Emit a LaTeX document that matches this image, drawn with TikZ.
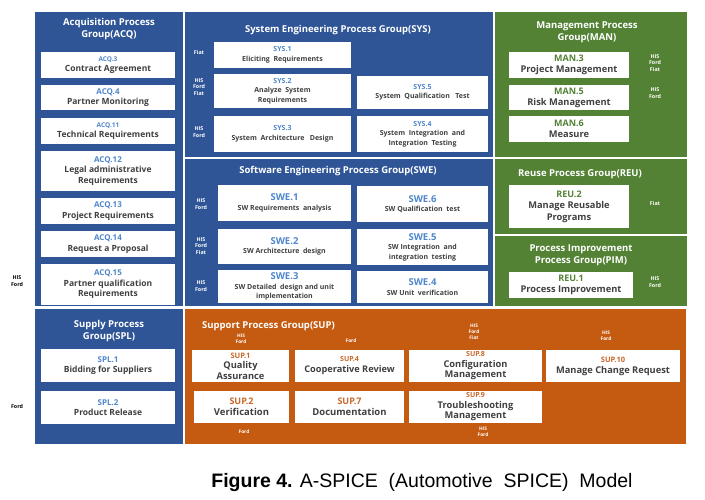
\documentclass[tikz,border=0pt]{standalone}
\usepackage{fontspec}
\setmainfont{Open Sans}
\newfontfamily\capfont{Liberation Sans}
\definecolor{panelblue}{HTML}{2F5597}
\definecolor{panelgreen}{HTML}{548235}
\definecolor{panelorange}{HTML}{C55A11}
\definecolor{codeblue}{HTML}{4F86CC}
\definecolor{codegreen}{HTML}{548235}
\definecolor{codeorange}{HTML}{C9682A}
\definecolor{desc}{HTML}{404040}
\newcommand{\pid}[3]{{\color{#1}\fontsize{#2}{#2}\selectfont #3}}

\begin{document}
\begin{tikzpicture}[x=1pt,y=-1pt,
  box/.style={fill=white,inner sep=0pt,align=center,text=desc,font=\bfseries\fontsize{8.5}{10.5}\selectfont},
  smallbox/.style={box,font=\bfseries\fontsize{7}{9.5}\selectfont},
  sz/.style 2 args={minimum width=#1,minimum height=#2},
  title/.style={text=white,align=center,inner sep=0pt,font=\bfseries\fontsize{9.5}{12}\selectfont},
  oem/.style={text=white,align=center,inner sep=0pt,font=\bfseries\fontsize{5.3}{6.6}\selectfont}]
  \useasboundingbox (0,0) rectangle (705,500);
  % panels
  \fill[panelblue] (35,12) rectangle (183,306);
  \fill[panelblue] (35,309) rectangle (183,444);
  \fill[panelblue] (185,12) rectangle (493,157);
  \fill[panelblue] (185,159) rectangle (493,306);
  \fill[panelgreen] (495,12) rectangle (687,157);
  \fill[panelgreen] (495,159) rectangle (687,234);
  \fill[panelgreen] (495,236) rectangle (687,306);
  \fill[panelorange] (185,309) rectangle (686,444);

  % acquisition
  \node (tacq) at (109,29) [title] {Acquisition Process\\Group(ACQ)};
  \node (acq3) at (108,65) [box,sz={134}{26}] {\pid{codeblue}{6.5}{ACQ.3}\\Contract Agreement};
  \node (acq4) at (108,97.5) [box,sz={134}{25}] {\pid{codeblue}{8}{ACQ.4}\\Partner Monitoring};
  \node (acq11) at (108,131) [box,sz={134}{26}] {\pid{codeblue}{6.5}{ACQ.11}\\Technical Requirements};
  \node (acq12) at (108,171) [box,sz={134}{40}] {\pid{codeblue}{8}{ACQ.12}\\Legal administrative\\Requirements};
  \node (acq13) at (108,211) [box,sz={134}{26}] {\pid{codeblue}{8}{ACQ.13}\\Project Requirements};
  \node (acq14) at (108,244) [box,sz={134}{26}] {\pid{codeblue}{8}{ACQ.14}\\Request a Proposal};
  \node (acq15) at (108,284.5) [box,sz={134}{41}] {\pid{codeblue}{8}{ACQ.15}\\Partner qualification\\Requirements};
  \node (oacq) at (17,281) [oem,text=black] {HIS\\Ford};

  % supply
  \node (tspl) at (109,331) [title] {Supply Process\\Group(SPL)};
  \node (spl1) at (108,365.5) [box,sz={134}{33}] {\pid{codeblue}{8}{SPL.1}\\Bidding for Suppliers};
  \node (spl2) at (108,407.5) [box,sz={134}{33}] {\pid{codeblue}{8}{SPL.2}\\Product Release};
  \node (ospl) at (17,407) [oem,text=black] {Ford};

  % system engineering
  \node (tsys) at (338,30) [title] {System Engineering Process Group(SYS)};
  \node (sys1) at (282.5,55) [smallbox,sz={137}{26}] {\pid{codeblue}{7}{SYS.1}\\Eliciting~ Requirements};
  \node (sys2) at (282.5,91) [smallbox,sz={137}{34}] {\pid{codeblue}{7}{SYS.2}\\Analyze~ System\\Requirements};
  \node (sys5) at (422.5,92.5) [smallbox,sz={131}{33}] {\pid{codeblue}{7}{SYS.5}\\System~ Qualification~~ Test};
  \node (sys3) at (282.5,134) [smallbox,sz={137}{36}] {\pid{codeblue}{7}{SYS.3}\\System~ Architecture~~ Design};
  \node (sys4) at (422.5,134) [smallbox,sz={131}{36}] {\pid{codeblue}{7}{SYS.4}\\System~ Integration~ and\\Integration~ Testing};
  \node (osys1) at (199,53) [oem] {Fiat};
  \node (osys2) at (199,87) [oem] {HIS\\Ford\\Fiat};
  \node (osys3) at (199,132) [oem] {HIS\\Ford};

  % software engineering
  \node (tswe) at (338,171) [title] {Software Engineering Process Group(SWE)};
  \node (swe1) at (284.5,203) [smallbox,sz={133}{36}] {\pid{codeblue}{9.5}{SWE.1}\\SW Requirements~ analysis};
  \node (swe6) at (422.5,204) [smallbox,sz={131}{36}] {\pid{codeblue}{9.5}{SWE.6}\\SW Qualification~ test};
  \node (swe2) at (284.5,246.5) [smallbox,sz={133}{35}] {\pid{codeblue}{9.5}{SWE.2}\\SW Architecture~ design};
  \node (swe5) at (422.5,247) [smallbox,sz={131}{36}] {\pid{codeblue}{9.5}{SWE.5}\\SW Integration~ and\\integration~ testing};
  \node (swe3) at (284.5,286.5) [smallbox,sz={133}{33}] {\pid{codeblue}{9.5}{SWE.3}\\SW Detailed~ design and unit\\implementation};
  \node (swe4) at (422.5,287) [smallbox,sz={131}{32}] {\pid{codeblue}{9.5}{SWE.4}\\SW Unit~ verification};
  \node (oswe1) at (201,204) [oem] {HIS\\Ford};
  \node (oswe2) at (201,246) [oem] {HIS\\Ford\\Fiat};
  \node (oswe3) at (201,286) [oem] {HIS\\Ford};

  % management, reuse, improvement
  \node (tman) at (587,32) [title] {Management Process\\Group(MAN)};
  \node (man3) at (569,65) [box,sz={120}{26},font=\bfseries\fontsize{9.3}{11}\selectfont] {\pid{codegreen}{9}{MAN.3}\\Project Management};
  \node (man5) at (569,97.5) [box,sz={120}{25},font=\bfseries\fontsize{9.3}{11}\selectfont] {\pid{codegreen}{9}{MAN.5}\\Risk Management};
  \node (man6) at (569,129) [box,sz={120}{26},font=\bfseries\fontsize{9.3}{11}\selectfont] {\pid{codegreen}{9}{MAN.6}\\Measure};
  \node (oman3) at (655,63) [oem] {HIS\\Ford\\Fiat};
  \node (oman5) at (655,93) [oem] {HIS\\Ford};
  \node (treu) at (580,174) [title] {Reuse Process Group(REU)};
  \node (reu2) at (569,206.5) [box,sz={120}{43},font=\bfseries\fontsize{9.3}{11.5}\selectfont] {\pid{codegreen}{9}{REU.2}\\Manage Reusable\\Programs};
  \node (oreu2) at (655,204) [oem] {Fiat};
  \node (tpim) at (581,255) [title] {Process Improvement\\Process Group(PIM)};
  \node (reu1) at (571,285) [box,sz={124}{26},font=\bfseries\fontsize{9.3}{11}\selectfont] {\pid{codegreen}{9}{REU.1}\\Process Improvement};
  \node (oreu1) at (655,282) [oem] {HIS\\Ford};

  % support
  \node (tsup) at (202,326) [title,anchor=west] {Support Process Group(SUP)};
  \node (sup1) at (240.5,366) [box,sz={97}{32},font=\bfseries\fontsize{9.3}{10.5}\selectfont] {\pid{codeorange}{7.5}{SUP.1}\\Quality\\Assurance};
  \node (sup4) at (349.5,366) [box,sz={109}{32},font=\bfseries\fontsize{9.2}{11}\selectfont] {\pid{codeorange}{7}{SUP.4}\\Cooperative Review};
  \node (sup8) at (475.5,366) [box,sz={133}{32},font=\bfseries\fontsize{9.3}{10.5}\selectfont] {\pid{codeorange}{7}{SUP.8}\\Configuration\\Management};
  \node (sup10) at (613,366) [box,sz={134}{32},font=\bfseries\fontsize{9.3}{11}\selectfont] {\pid{codeorange}{7.5}{SUP.10}\\Manage Change Request};
  \node (sup2) at (241.5,407) [box,sz={95}{32},font=\bfseries\fontsize{9.5}{11.5}\selectfont] {\pid{codeorange}{9}{SUP.2}\\Verification};
  \node (sup7) at (349.5,407) [box,sz={109}{32},font=\bfseries\fontsize{9.5}{11.5}\selectfont] {\pid{codeorange}{9}{SUP.7}\\Documentation};
  \node (sup9) at (475.5,407) [box,sz={133}{32},font=\bfseries\fontsize{9.3}{10.5}\selectfont] {\pid{codeorange}{7}{SUP.9}\\Troubleshooting\\Management};
  \node (osup1) at (241,339) [oem,font=\bfseries\fontsize{4.8}{6}\selectfont] {HIS\\Ford};
  \node (osup4) at (351,341) [oem,font=\bfseries\fontsize{4.8}{6}\selectfont] {Ford};
  \node (osup8) at (474,332) [oem,font=\bfseries\fontsize{4.8}{6}\selectfont] {HIS\\Ford\\Fiat};
  \node (osup10) at (606,336) [oem,font=\bfseries\fontsize{4.8}{6}\selectfont] {HIS\\Ford};
  \node (osup2) at (244,432) [oem,font=\bfseries\fontsize{4.8}{6}\selectfont] {Ford};
  \node (osup9) at (483,432) [oem,font=\bfseries\fontsize{4.8}{6}\selectfont] {HIS\\Ford};

  % caption
  \node (cap) at (422,482) [inner sep=0pt,font=\capfont\fontsize{19.5}{21}\selectfont] {\textbf{Figure 4.} A-SPICE~ (Automotive~ SPICE)~ Model};
\end{tikzpicture}
\end{document}
